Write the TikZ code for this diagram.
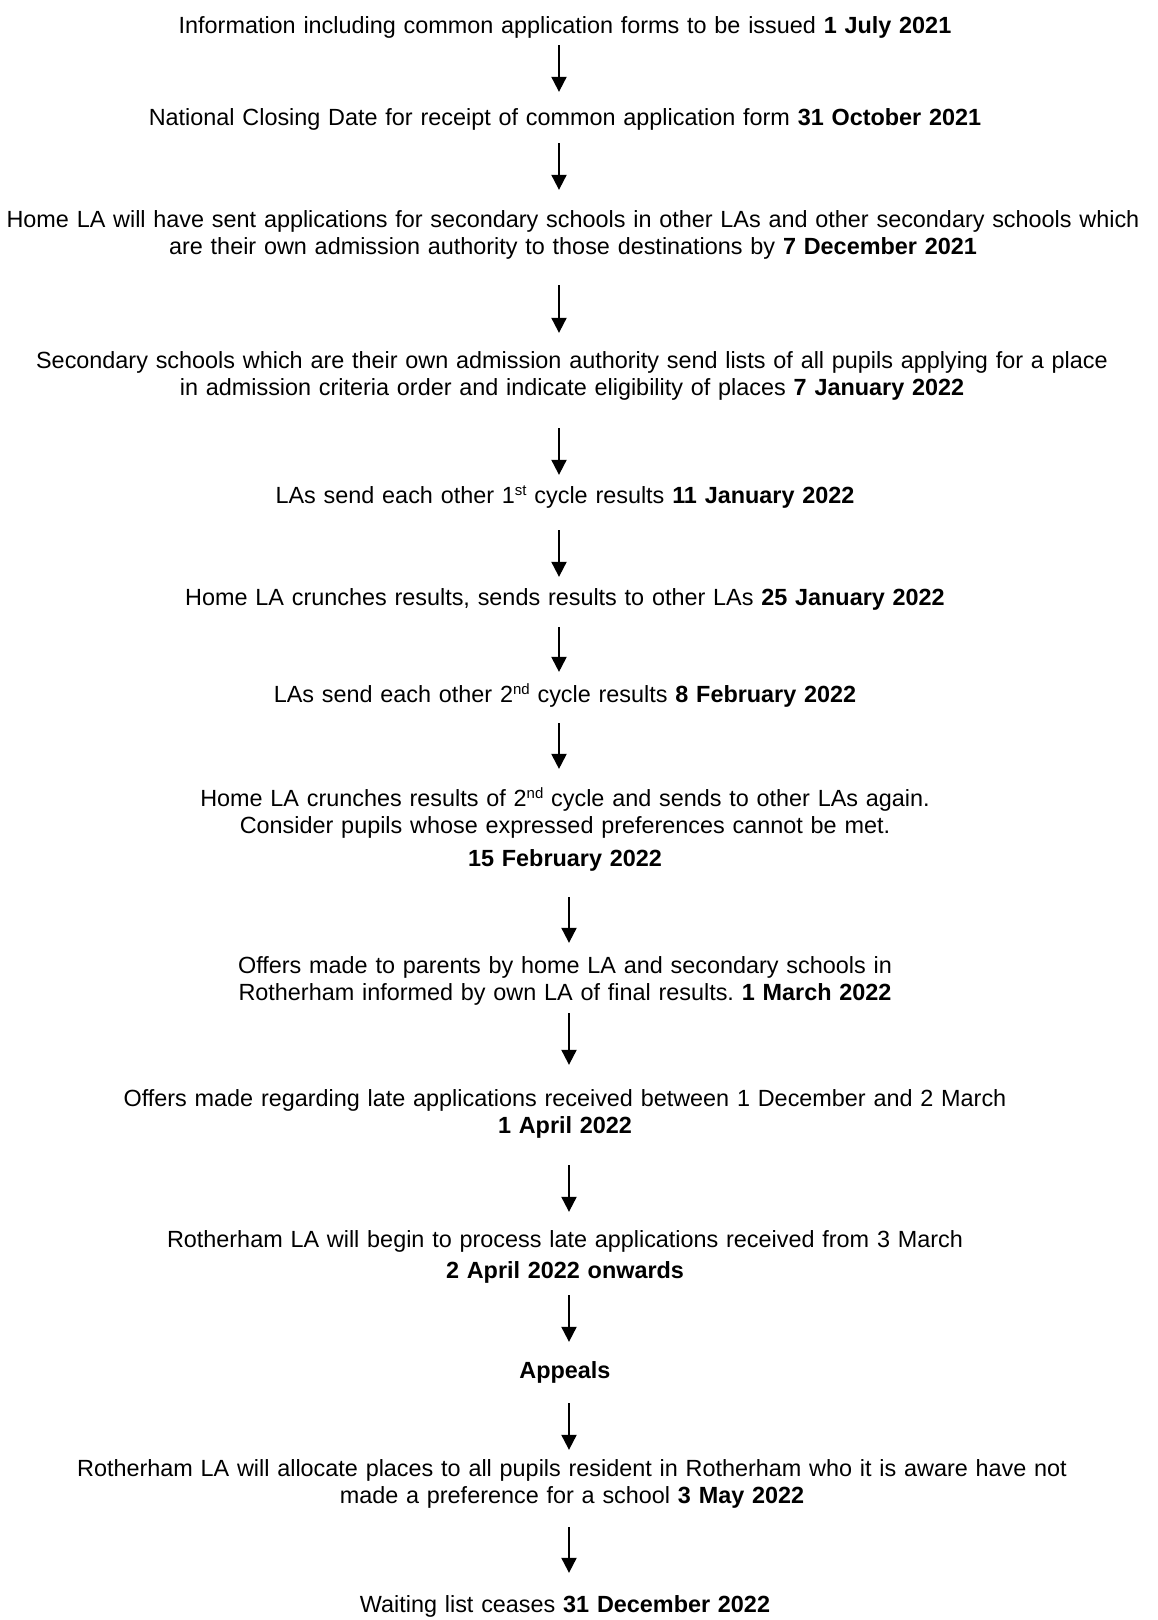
\documentclass[tikz,border=0pt]{standalone}
\usepackage{fontspec}
\setmainfont{Liberation Sans}
\usetikzlibrary{arrows.meta}
\frenchspacing
\newcommand{\supr}[1]{\raisebox{0.3em}{\fontsize{15}{15}\selectfont #1}}

\begin{document}
\begin{tikzpicture}[x = 1pt, y = -1pt,
        txt/.style = {anchor = base, align = center, text width = 1156pt, inner sep = 0pt, font = \fontsize{23.4}{27}\selectfont},
        flow/.style = {line width = 2pt, -{Triangle[width = 15pt, length = 15pt]}}]
    \useasboundingbox (0,0) rectangle (1158,1620);
    \coordinate (ax) at (559,0);
    \coordinate (bx) at (569,0);
    \node[txt] (b1) at (565,33) {Information including common application forms to be issued \textbf{1 July 2021}};
    \node[txt] (b2) at (565,125) {National Closing Date for receipt of common application form \textbf{31 October 2021}};
    \node[txt] (b3) at (573,227) {Home LA will have sent applications for secondary schools in other LAs and other secondary schools which\\ are their own admission authority to those destinations by \textbf{7 December 2021}};
    \node[txt] (b4) at (572,368) {Secondary schools which are their own admission authority send lists of all pupils applying for a place\\ in admission criteria order and indicate eligibility of places \textbf{7 January 2022}};
    \node[txt] (b5) at (565,503) {LAs send each other 1\supr{st} cycle results \textbf{11 January 2022}};
    \node[txt] (b6) at (565,605) {Home LA crunches results, sends results to other LAs \textbf{25 January 2022}};
    \node[txt] (b7) at (565,702) {LAs send each other 2\supr{nd} cycle results \textbf{8 February 2022}};
    \node[txt] (b8) at (565,806) {Home LA crunches results of 2\supr{nd} cycle and sends to other LAs again.\\ Consider pupils whose expressed preferences cannot be met.\\[6pt] \textbf{15 February 2022}};
    \node[txt] (b9) at (565,973) {Offers made to parents by home LA and secondary schools in\\ Rotherham informed by own LA of final results. \textbf{1 March 2022}};
    \node[txt] (b10) at (565,1106) {Offers made regarding late applications received between 1 December and 2 March\\ \textbf{1 April 2022}};
    \node[txt] (b11) at (565,1247) {Rotherham LA will begin to process late applications received from 3 March\\[4pt] \textbf{2 April 2022 onwards}};
    \node[txt] (b12) at (565,1378) {\textbf{Appeals}};
    \node[txt] (b13) at (572,1476) {Rotherham LA will allocate places to all pupils resident in Rotherham who it is aware have not\\ made a preference for a school \textbf{3 May 2022}};
    \node[txt] (b14) at (565,1612) {Waiting list ceases \textbf{31 December 2022}};

    \draw[flow, shorten <= 7pt, shorten >= 16pt] (b1.south -| ax) -- (b2.north -| ax);
    \draw[flow, shorten <= 13pt, shorten >= 20pt] (b2.south -| ax) -- (b3.north -| ax);
    \draw[flow, shorten <= 26pt, shorten >= 18pt] (b3.south -| ax) -- (b4.north -| ax);
    \draw[flow, shorten <= 28pt, shorten >= 11pt] (b4.south -| ax) -- (b5.north -| ax);
    \draw[flow, shorten <= 22pt, shorten >= 11pt] (b5.south -| ax) -- (b6.north -| ax);
    \draw[flow, shorten <= 17pt, shorten >= 12pt] (b6.south -| ax) -- (b7.north -| ax);
    \draw[flow, shorten <= 16pt, shorten >= 19pt] (b7.south -| ax) -- (b8.north -| ax);
    \draw[flow, shorten <= 26pt, shorten >= 13pt] (b8.south -| bx) -- (b9.north -| bx);
    \draw[flow, shorten <= 8pt, shorten >= 24pt] (b9.south -| bx) -- (b10.north -| bx);
    \draw[flow, shorten <= 27pt, shorten >= 18pt] (b10.south -| bx) -- (b11.north -| bx);
    \draw[flow, shorten <= 12pt, shorten >= 19pt] (b11.south -| bx) -- (b12.north -| bx);
    \draw[flow, shorten <= 20pt, shorten >= 9pt] (b12.south -| bx) -- (b13.north -| bx);
    \draw[flow, shorten <= 19pt, shorten >= 22pt] (b13.south -| bx) -- (b14.north -| bx);
\end{tikzpicture}
\end{document}
